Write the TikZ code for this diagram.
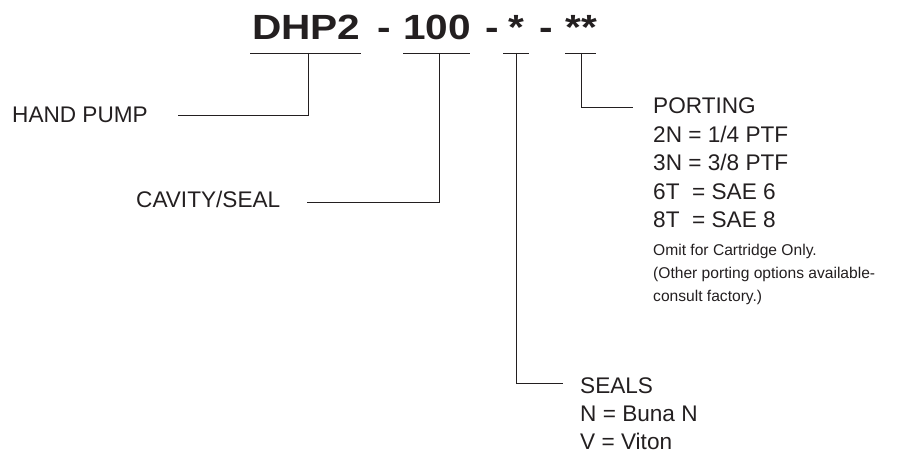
\documentclass[tikz,border=0pt]{standalone}
\usepackage{fontspec}
\setmainfont{Liberation Sans}
\definecolor{ink}{RGB}{35,31,32}
\begin{document}
\begin{tikzpicture}[x=1pt,y=-1pt,
  lbl/.style={anchor=base west,inner sep=0pt,text=ink,font=\fontsize{22.6}{26}\selectfont},
  small/.style={anchor=base west,inner sep=0pt,text=ink,font=\fontsize{15.6}{18}\selectfont},
  ttl/.style={anchor=base west,inner sep=0pt,text=ink,xscale=1.16,font=\fontsize{35}{40}\selectfont\bfseries},
  conn/.style={draw=ink,line width=0.9pt}]
\useasboundingbox (0,0) rectangle (920,454);
% title
\node[ttl] (t1) at (252,40) {DHP2};
\node[ttl] (d1) at (377,40) {-};
\node[ttl] (t2) at (403,40) {100};
\node[ttl] (d2) at (485,40) {-};
\node[ttl] (t3) at (508,40) {*};
\node[ttl] (d3) at (539,40) {-};
\node[ttl] (t4) at (565,40) {**};
% underline coordinates
\coordinate (u1a) at (250,53); \coordinate (u1b) at (361,53); \coordinate (u1) at (308,53);
\coordinate (u2a) at (403,53); \coordinate (u2b) at (470,53); \coordinate (u2) at (439,53);
\coordinate (u3a) at (503,53); \coordinate (u3b) at (529,53); \coordinate (u3) at (516,53);
\coordinate (u4a) at (565,53); \coordinate (u4b) at (596,53); \coordinate (u4) at (581,53);
\draw[conn] (u1a) -- (u1b);
\draw[conn] (u2a) -- (u2b);
\draw[conn] (u3a) -- (u3b);
\draw[conn] (u4a) -- (u4b);
% labels
\node[lbl] (hp) at (12,123) {HAND PUMP};
\node[lbl] (cs) at (136,208) {CAVITY/SEAL};
\node[lbl] (po) at (653,114) {PORTING};
\node[lbl] (p1) at (653,142.5) {2N = 1/4 PTF};
\node[lbl] (p2) at (653,171) {3N = 3/8 PTF};
\node[lbl] (p3) at (653,199.5) {6T \ = SAE 6};
\node[lbl] (p4) at (653,228) {8T \ = SAE 8};
\node[small] (s1) at (653,255) {Omit for Cartridge Only.};
\node[small] (s2) at (653,278) {(Other porting options available-};
\node[small] (s3) at (653,301) {consult factory.)};
\node[lbl] (se) at (580,393) {SEALS};
\node[lbl] (se1) at (580,421.5) {N = Buna N};
\node[lbl] (se2) at (580,449) {V = Viton};
% connector ends
\coordinate (hpe) at (178,115);
\coordinate (cse) at (307,202);
\coordinate (poe) at (633,107);
\coordinate (see) at (563,383);
\draw[conn] (u1) |- (hpe);
\draw[conn] (u2) |- (cse);
\draw[conn] (u4) |- (poe);
\draw[conn] (u3) |- (see);
\end{tikzpicture}
\end{document}
